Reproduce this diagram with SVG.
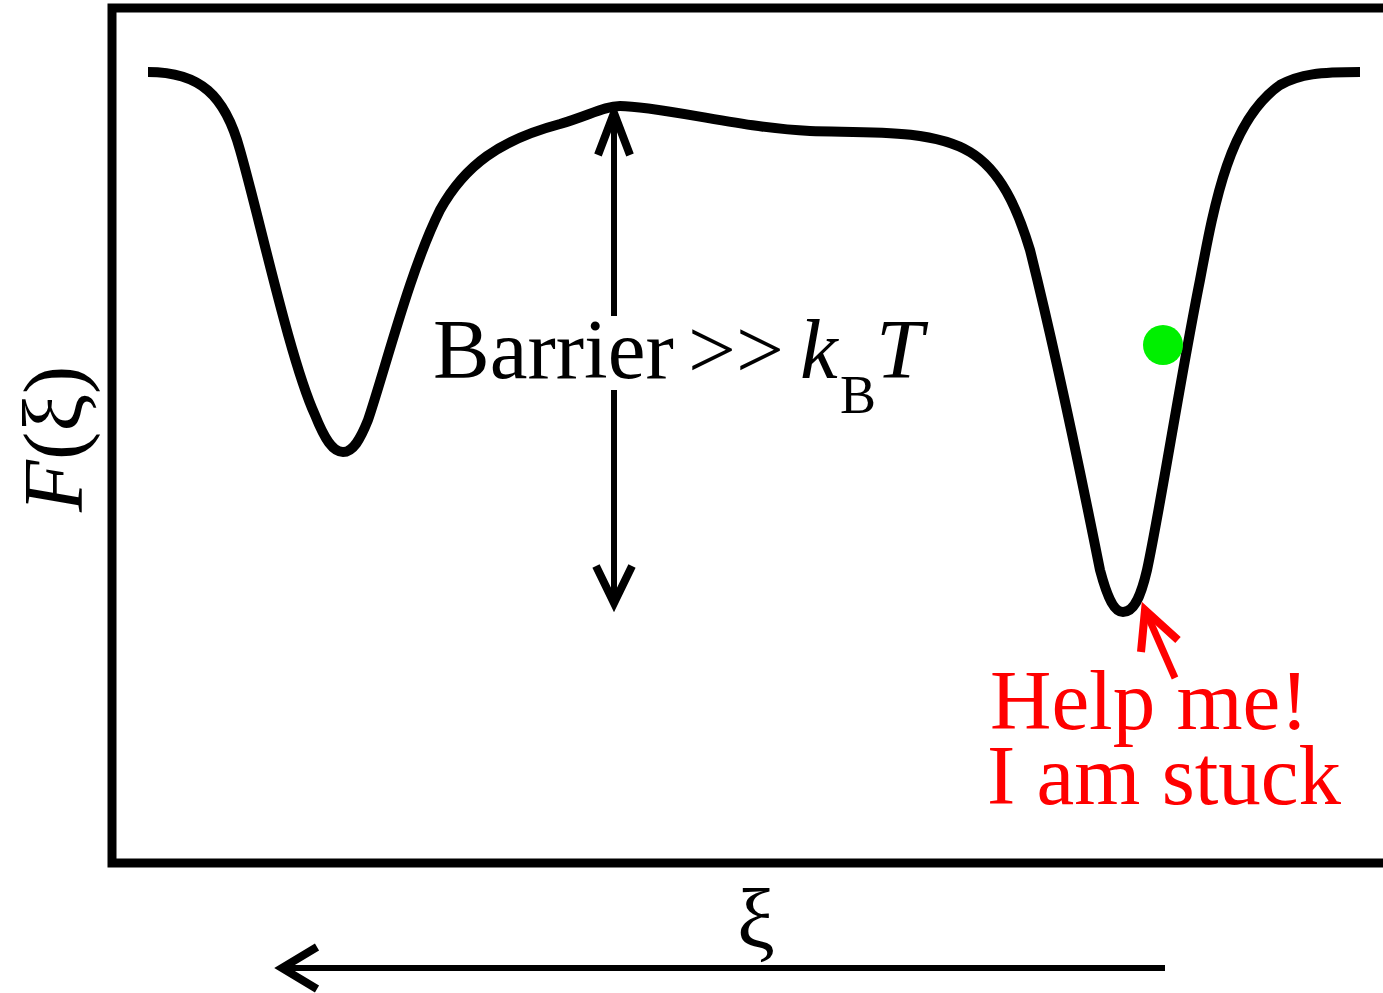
<svg xmlns="http://www.w3.org/2000/svg" width="1383" height="993" viewBox="0 0 1383 993">
<style>
.txt{font-family:"Liberation Serif","Times New Roman",serif;font-size:85px;fill:#000}
.red{fill:#ff0000}
.ln{fill:none;stroke:#000;stroke-width:6}
.hd{fill:none;stroke:#000;stroke-width:8;stroke-linecap:butt;stroke-linejoin:miter}
</style>
<rect width="1383" height="993" fill="#fff"/>
<g id="frame">
<rect x="112" y="8" width="1300" height="855" fill="none" stroke="#000" stroke-width="9"/>
</g>
<g id="curve">
<path d="M148,72 C200,72 225,95 240,150 C260,220 290,360 315,415 C325,440 333,452 343,452 C353,452 360,440 368,420 C385,370 410,270 440,210 C465,165 500,140 560,124 C590,115 605,106 620,106 C660,106 740,128 810,131 C860,133 930,128 970,152 C1000,170 1017,207 1030,250 C1050,330 1080,470 1100,570 C1108,600 1115,612 1123,612 C1133,612 1140,600 1147,570 C1160,510 1180,380 1200,280 C1215,200 1230,120 1280,85 C1300,74 1320,72 1360,72" fill="none" stroke="#000" stroke-width="10" stroke-linejoin="round"/>
</g>
<g id="particle">
<circle cx="1163" cy="345" r="20" fill="#00f000"/>
</g>
<g id="connectors">
<line class="ln" x1="614" y1="112" x2="614" y2="602"/>
<polyline class="hd" points="598,155 614,113 630,155"/>
<polyline class="hd" points="596,566 614,603 632,566"/>
<line class="ln" x1="284" y1="968" x2="1165" y2="968"/>
<polyline class="hd" points="317,947 282,968 317,989"/>
<line x1="1175" y1="678" x2="1146" y2="612" stroke="#ff0000" stroke-width="7"/>
<polyline points="1141,652 1145,610 1178,640" fill="none" stroke="#ff0000" stroke-width="8"/>
</g>
<g id="barrier-label">
<rect x="428" y="316" width="532" height="74" fill="#fff"/>
<text class="txt" x="433" y="378">Barrier</text>
<text class="txt" x="688" y="378">&gt;&gt;</text>
<text class="txt" x="800" y="378"><tspan font-style="italic">k</tspan><tspan x="840" y="413" font-size="54">B</tspan><tspan x="876" y="378" font-style="italic">T</tspan></text>
</g>
<g id="y-label">
<text class="txt" transform="translate(82,512) rotate(-90)"><tspan font-style="italic">F</tspan>(ξ)</text>
</g>
<g id="x-label">
<text class="txt" x="756" y="948" text-anchor="middle" font-size="94">ξ</text>
</g>
<g id="stuck-label">
<text class="txt red" x="990" y="729">Help me!</text>
<text class="txt red" x="987" y="804">I am stuck</text>
</g>
</svg>
